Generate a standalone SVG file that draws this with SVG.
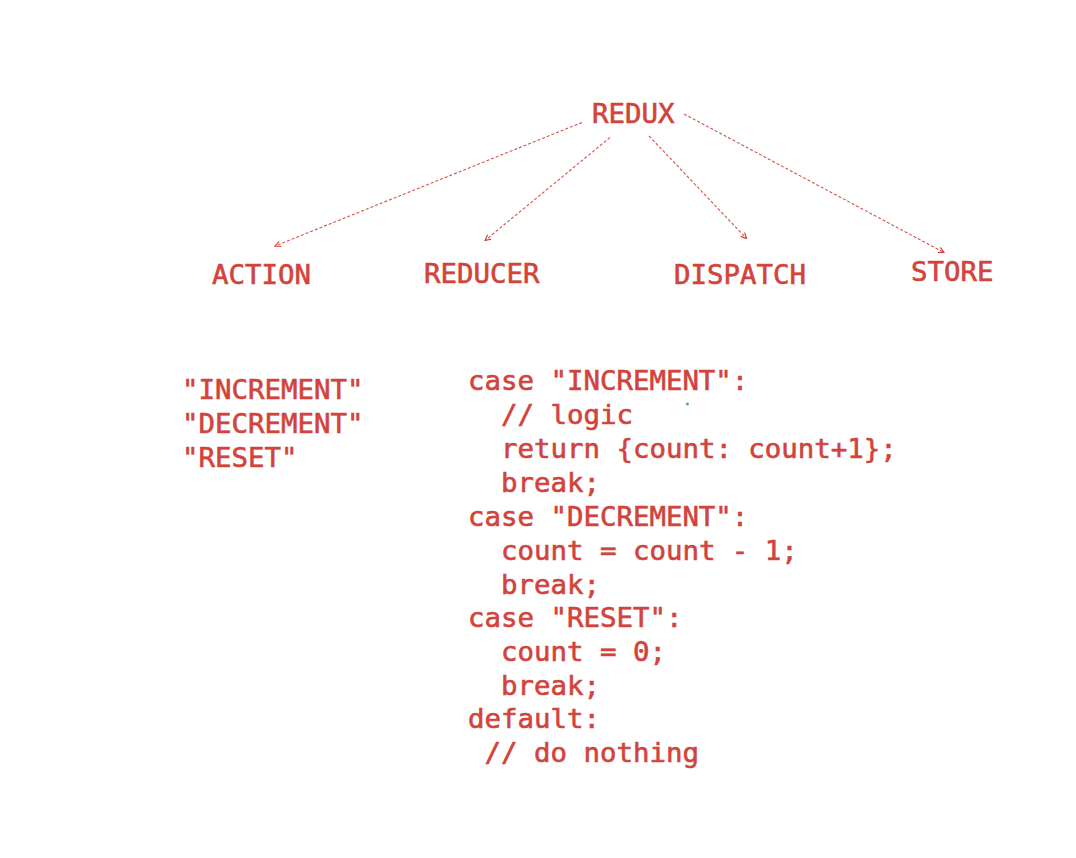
<svg xmlns="http://www.w3.org/2000/svg" width="1076" height="858" viewBox="0 0 1076 858">
  <defs>
    <style>
      .t { font-family: "DejaVu Sans Mono", "Liberation Mono", monospace; font-size: 27.4px; fill: #d1433b; stroke: #d1433b; stroke-width: 0.6px; }
      .link { fill: none; stroke: #d6524a; stroke-width: 1.1; stroke-dasharray: 3 2; }
    </style>
    <marker id="head" viewBox="0 0 10 10" refX="9" refY="5" markerWidth="7" markerHeight="7" markerUnits="userSpaceOnUse" orient="auto">
      <path d="M1,1 L9,5 L1,9" fill="none" stroke="#d1433b" stroke-width="1.6"/>
    </marker>
  </defs>
  <rect width="1076" height="858" fill="#ffffff"/>

  <g id="redux"><text class="t" x="592" y="123">REDUX</text></g>
  <g id="action"><text class="t" x="212" y="283.5">ACTION</text></g>
  <g id="reducer"><text class="t" x="424" y="282.5">REDUCER</text></g>
  <g id="dispatch"><text class="t" x="674" y="283.5">DISPATCH</text></g>
  <g id="store"><text class="t" x="911" y="281">STORE</text></g>

  <g id="connectors">
    <line class="link" x1="582" y1="122.5" x2="275" y2="246" marker-end="url(#head)"/>
    <line class="link" x1="610" y1="137.5" x2="485" y2="240.5" marker-end="url(#head)"/>
    <line class="link" x1="649" y1="136" x2="746.5" y2="238.5" marker-end="url(#head)"/>
    <line class="link" x1="684" y1="114" x2="944" y2="252.5" marker-end="url(#head)"/>
  </g>

  <g id="action-types">
    <text class="t" x="182" y="399">"INCREMENT"</text>
    <text class="t" x="182" y="433">"DECREMENT"</text>
    <text class="t" x="182" y="467">"RESET"</text>
  </g>

  <g id="reducer-code">
    <text class="t" x="468" y="390">case "INCREMENT":</text>
    <text class="t" x="501" y="424">// logic</text>
    <text class="t" x="501" y="458">return {count: count+1};</text>
    <text class="t" x="501" y="492">break;</text>
    <text class="t" x="468" y="526">case "DECREMENT":</text>
    <text class="t" x="501" y="560">count = count - 1;</text>
    <text class="t" x="501" y="594">break;</text>
    <text class="t" x="468" y="627">case "RESET":</text>
    <text class="t" x="501" y="661">count = 0;</text>
    <text class="t" x="501" y="695">break;</text>
    <text class="t" x="468" y="728">default:</text>
    <text class="t" x="484.5" y="762">// do nothing</text>
  </g>

  <circle cx="687.5" cy="404" r="1.4" fill="#3fae49"/>
</svg>
